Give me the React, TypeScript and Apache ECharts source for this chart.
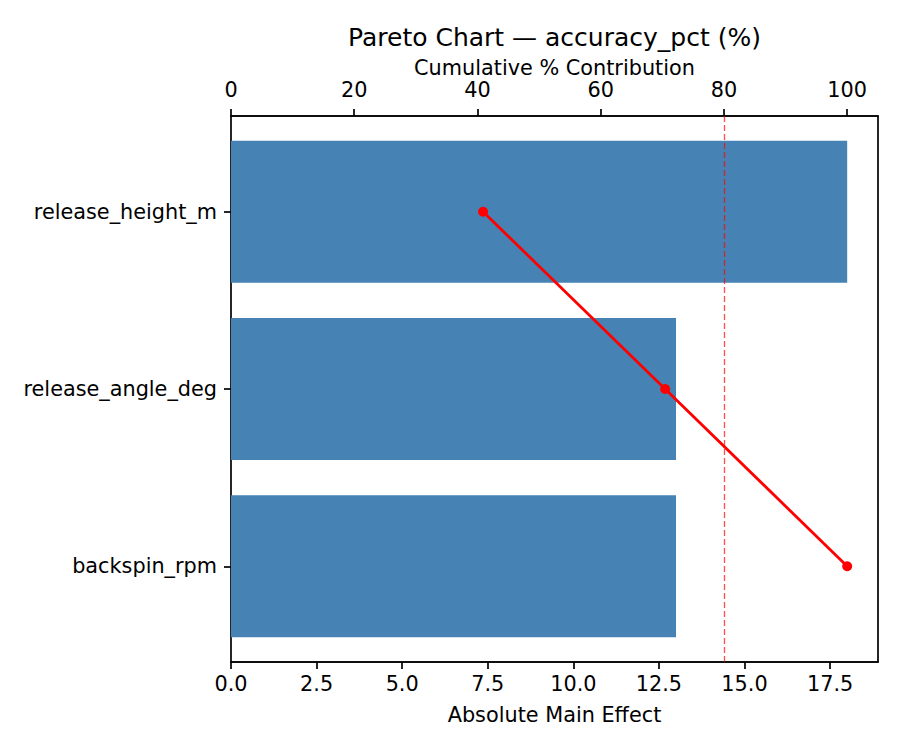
import React, { useEffect, useRef } from 'react';
import * as echarts from 'echarts';

// factors, sorted by effect (largest first)
const categories = ['release_height_m', 'release_angle_deg', 'backspin_rpm'];
const effects = [18.0, 13.0, 13.0];

// axis ranges and ticks
const effectMax = 18.9;
const effectTicks = [0, 2.5, 5, 7.5, 10, 12.5, 15, 17.5];
const pctMax = 105;
const pctTicks = [0, 20, 40, 60, 80, 100];
const threshold = 80;

const total = effects.reduce((a, b) => a + b, 0);
const cumulative = effects.map(
  (_, i) => (effects.slice(0, i + 1).reduce((a, b) => a + b, 0) / total) * 100
);

const FONT = 'DejaVu Sans';
const FS = 20.8;

const App: React.FC = () => {
  const chartRef = useRef<HTMLDivElement>(null);

  useEffect(() => {
    document.body.style.margin = '0';
    const chart = echarts.init(chartRef.current!, null, { renderer: 'svg' });

    // plot frame (matches the matplotlib axes box)
    const left = 231;
    const top = 116;
    const width = 647;
    const height = 546;
    // bars sit inside a small margin, like matplotlib's y margins
    const inset = 7.1;

    const text = { color: '#000', fontFamily: FONT, fontSize: FS };
    const line = { show: true, lineStyle: { color: '#000', width: 1.7 } };
    const tick = { show: true, inside: false, length: 7, lineStyle: { color: '#000', width: 1.7 } };

    const options: any = {
      animation: false,
      graphic: [
        {
          type: 'text',
          x: left + width / 2,
          y: 37,
          style: {
            text: 'Pareto Chart — accuracy_pct (%)',
            align: 'center',
            verticalAlign: 'middle',
            fill: '#000',
            font: `25px "${FONT}"`,
          },
        },
      ],
      grid: [
        {
          left,
          top,
          width,
          height,
          show: true,
          borderColor: '#000',
          borderWidth: 1.7,
          backgroundColor: 'transparent',
        },
        { left, top: top + inset, width, height: height - inset * 2 },
      ],
      xAxis: [
        {
          gridIndex: 0,
          type: 'value',
          position: 'bottom',
          min: 0,
          max: effectMax,
          interval: 2.5,
          axisLine: line,
          axisTick: { ...tick, customValues: effectTicks },
          splitLine: { show: false },
          axisLabel: {
            ...text,
            margin: 11,
            customValues: effectTicks,
            formatter: (v: number) => v.toFixed(1),
          },
          name: 'Absolute Main Effect',
          nameLocation: 'middle',
          nameGap: 42,
          nameTextStyle: text,
        },
        {
          gridIndex: 0,
          type: 'value',
          position: 'top',
          min: 0,
          max: pctMax,
          interval: 20,
          axisLine: line,
          axisTick: { ...tick, customValues: pctTicks },
          splitLine: { show: false },
          axisLabel: { ...text, margin: 16, customValues: pctTicks },
          name: 'Cumulative % Contribution',
          nameLocation: 'middle',
          nameGap: 38,
          nameMoveOverlap: false,
          nameTextStyle: text,
        },
        { gridIndex: 1, type: 'value', min: 0, max: effectMax, show: false },
        { gridIndex: 1, type: 'value', min: 0, max: pctMax, show: false },
      ],
      yAxis: [
        { gridIndex: 0, type: 'value', min: 0, max: 1, show: false },
        {
          gridIndex: 1,
          type: 'category',
          inverse: true,
          data: categories,
          axisLine: { show: false },
          axisTick: { ...tick, alignWithLabel: true },
          splitLine: { show: false },
          axisLabel: { ...text, margin: 14 },
        },
      ],
      series: [
        {
          type: 'bar',
          xAxisIndex: 2,
          yAxisIndex: 1,
          data: effects,
          barCategoryGap: '20%',
          itemStyle: { color: '#4682b4' },
        },
        {
          type: 'line',
          xAxisIndex: 3,
          yAxisIndex: 1,
          data: cumulative.map((v, i) => [v, categories[i]]),
          symbol: 'circle',
          symbolSize: 10,
          itemStyle: { color: '#ff0000' },
          lineStyle: { color: '#ff0000', width: 2.8 },
          z: 5,
        },
        {
          // carrier for the 80% reference line
          type: 'line',
          xAxisIndex: 1,
          yAxisIndex: 0,
          data: [[threshold, 0.5]],
          symbolSize: 0,
          showSymbol: false,
          lineStyle: { opacity: 0 },
          silent: true,
          markLine: {
            silent: true,
            symbol: 'none',
            label: { show: false },
            lineStyle: { color: '#ff0000', opacity: 0.7, width: 1.3, type: [6, 3] },
            data: [{ xAxis: threshold }],
          },
        },
      ],
    };

    chart.setOption(options);

    return () => {
      chart.dispose();
    };
  }, []);

  return <div ref={chartRef} style={{ width: '900px', height: '750px' }} />;
};

export default App;
